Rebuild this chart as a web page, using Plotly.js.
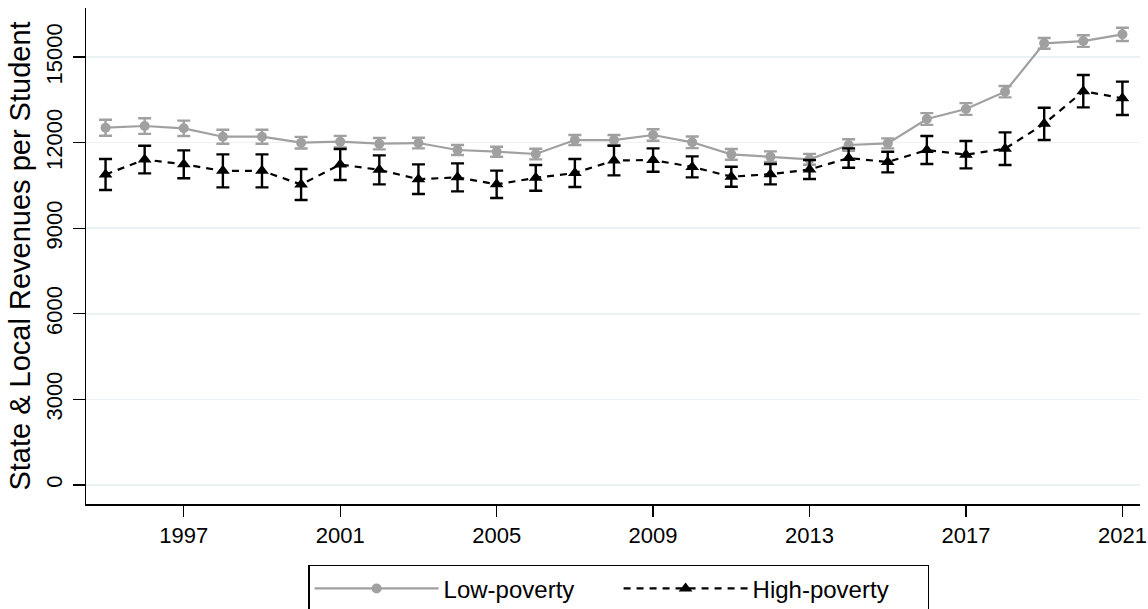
<!DOCTYPE html>
<html>
<head>
<meta charset="utf-8">
<script src="https://cdn.plot.ly/plotly-3.0.1.min.js"></script>
<style>html,body{margin:0;padding:0;background:#fff;}#chart{width:1148px;height:609px;}</style>
</head>
<body>
<div id="chart"></div>
<script>
const years = [1995,1996,1997,1998,1999,2000,2001,2002,2003,2004,2005,2006,2007,2008,2009,2010,2011,2012,2013,2014,2015,2016,2017,2018,2019,2020,2021];
const lowPoverty = [12524,12583,12502,12208,12208,11998,12033,11963,11987,11742,11683,11602,12092,12092,12268,12012,11590,11510,11415,11917,11976,12829,13179,13786,15481,15562,15797];
const lowErr = [280,275,270,245,245,205,205,200,187,175,175,187,175,175,200,205,190,185,190,200,175,205,205,200,190,205,233];
const highPoverty = [10883,11409,11240,11012,11012,10533,11234,11047,10719,10784,10539,10766,10936,11374,11391,11151,10807,10894,11058,11461,11321,11742,11578,11788,12659,13804,13554];
const highErr = [543,485,490,578,578,543,543,508,520,490,479,450,490,520,409,368,350,356,333,339,362,490,479,572,567,567,584];
const xTicks = [1997,2001,2005,2009,2013,2017,2021];
const yTicks = [0,3000,6000,9000,12000,15000];

const grey = '#a0a0a0';
const traces = [
  {
    x: years, y: lowPoverty, name: 'Low-poverty', type: 'scatter', mode: 'lines+markers',
    line: {color: grey, width: 2.2},
    marker: {color: grey, size: 10, symbol: 'circle'},
    error_y: {type: 'data', array: lowErr, visible: true, color: grey, thickness: 2.4, width: 6.5}
  },
  {
    x: years, y: highPoverty, name: 'High-poverty', type: 'scatter', mode: 'lines+markers',
    line: {color: '#000', width: 2.2, dash: '7px,6px'},
    marker: {color: '#000', size: 12, symbol: 'triangle-up'},
    error_y: {type: 'data', array: highErr, visible: true, color: '#000', thickness: 2.4, width: 6.5}
  }
];

const layout = {
  width: 1148, height: 609,
  margin: {l: 86, r: 8, t: 8, b: 105, autoexpand: false},
  paper_bgcolor: '#fff', plot_bgcolor: '#fff',
  font: {family: 'Liberation Sans, Arial, sans-serif', color: '#000', size: 22},
  showlegend: true,
  legend: {
    orientation: 'h', xref: 'container', yref: 'container',
    x: 0.539, xanchor: 'center', y: 0.0722, yanchor: 'top',
    bordercolor: '#000', borderwidth: 1.3, font: {size: 24},
    itemwidth: 124, entrywidth: 170, tracegroupgap: 0
  },
  xaxis: {
    range: [1994.5, 2021.45], automargin: false,
    tickvals: xTicks, ticktext: xTicks.map(String),
    showgrid: false, zeroline: false,
    showline: true, linecolor: '#000', linewidth: 1.5,
    ticks: 'outside', ticklen: 11, tickwidth: 1.3, tickcolor: '#000',
    ticklabelstandoff: 0,
    tickfont: {size: 22}
  },
  yaxis: {
    range: [-666, 16720], automargin: false,
    tickvals: yTicks, ticktext: yTicks.map(String),
    tickangle: -90,
    showgrid: true, gridcolor: '#eaf2f3', gridwidth: 1.5,
    zeroline: false,
    showline: true, linecolor: '#000', linewidth: 1.5,
    ticks: 'outside', ticklen: 12, tickwidth: 1.3, tickcolor: '#000',
    ticklabelstandoff: 2,
    tickfont: {size: 22},
    title: {text: 'State & Local Revenues per Student', font: {size: 29}, standoff: 2}
  }
};

Plotly.newPlot('chart', traces, layout, {displayModeBar: false, staticPlot: true});
</script>
</body>
</html>
